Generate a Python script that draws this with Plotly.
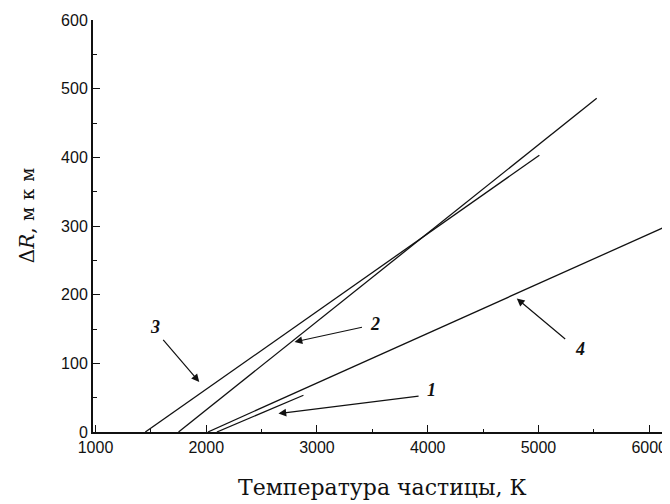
import plotly.graph_objects as go

# Curves: temperature (K) vs ΔR (мкм)
curve_names = ["1", "2", "3", "4"]
curve1_T = [2096, 2878]
curve1_R = [0, 53.5]
curve2_T = [1750, 5526]
curve2_R = [0, 486]
curve3_T = [1450, 5008]
curve3_R = [0, 403]
curve4_T = [2015, 6188]
curve4_R = [0, 302]

# Label positions (data coords) and arrow tail/head
label_text = ["1", "2", "3", "4"]
label_T = [4037, 3525, 1533, 5375]
label_R = [60.8, 158, 153, 120.6]
arrow_tail_T = [3931, 3420, 1600, 5255]
arrow_tail_R = [52.5, 153, 136.2, 133.7]
arrow_head_T = [2652, 2797, 1937, 4804]
arrow_head_R = [26.8, 131.2, 72.9, 194.5]

x_ticks = [1000, 2000, 3000, 4000, 5000, 6000]
y_ticks = [0, 100, 200, 300, 400, 500, 600]

fig = go.Figure()
for T, R in [(curve1_T, curve1_R), (curve2_T, curve2_R), (curve3_T, curve3_R), (curve4_T, curve4_R)]:
    fig.add_trace(go.Scatter(x=T, y=R, mode="lines",
                             line=dict(color="#111111", width=1.3),
                             showlegend=False, hoverinfo="skip", cliponaxis=True))

annotations = []
for t, lx, ly, tx, ty, hx, hy in zip(label_text, label_T, label_R, arrow_tail_T, arrow_tail_R,
                                      arrow_head_T, arrow_head_R):
    annotations.append(dict(x=lx, y=ly, xref="x", yref="y", text="<b><i>%s</i></b>" % t,
                            showarrow=False, font=dict(family="Liberation Serif", size=18, color="#111111"),
                            xanchor="center", yanchor="middle"))
    annotations.append(dict(x=hx, y=hy, xref="x", yref="y", ax=tx, ay=ty, axref="x", ayref="y",
                            text="", showarrow=True, arrowhead=2, arrowsize=1.3, arrowwidth=1.2,
                            arrowcolor="#111111", standoff=0, startstandoff=0))

annotations.append(dict(x=0.5, y=-0.1335, xref="paper", yref="paper",
                        text="Температура частицы, К", showarrow=False,
                        font=dict(family="DejaVu Serif", size=22, color="#111111"),
                        xanchor="center", yanchor="middle"))
annotations.append(dict(x=-0.114, y=0.534, xref="paper", yref="paper",
                        text="Δ<i>R</i>, <span style='font-family:DejaVu Serif;letter-spacing:7px;font-size:18px'>мкм</span>",
                        showarrow=False, textangle=-90,
                        font=dict(family="DejaVu Serif", size=20, color="#111111"),
                        xanchor="center", yanchor="middle"))

# the page body has an 8px margin, so the figure is sized to fit the window
fig.update_layout(
    width=662, height=496,
    margin=dict(l=85, r=0, t=12, b=72, autoexpand=False),
    paper_bgcolor="white", plot_bgcolor="white",
    annotations=annotations,
    xaxis=dict(range=[977.6, 6187.7], tickvals=x_ticks, ticks="inside", ticklen=7,
               tickwidth=1.2, tickcolor="#111111", automargin=False,
               minor=dict(dtick=500, tick0=1000, ticks="inside", ticklen=3.5, tickwidth=1.2,
                          tickcolor="#111111", showgrid=False),
               showline=True, linewidth=2, linecolor="#111111", showgrid=False, zeroline=False,
               tickfont=dict(family="Liberation Sans", size=16, color="#111111")),
    yaxis=dict(range=[0, 600], tickvals=y_ticks, ticks="inside", ticklen=7,
               tickwidth=1.2, tickcolor="#111111", automargin=False,
               minor=dict(dtick=50, tick0=0, ticks="inside", ticklen=3.5, tickwidth=1.2,
                          tickcolor="#111111", showgrid=False),
               showline=True, linewidth=2, linecolor="#111111", showgrid=False, zeroline=False,
               tickfont=dict(family="Liberation Sans", size=16, color="#111111")),
)

fig.write_html("out.html")
